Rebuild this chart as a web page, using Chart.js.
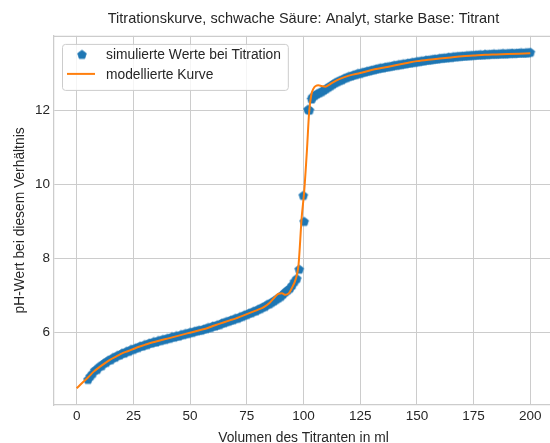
<!DOCTYPE html>
<html>
<head>
<meta charset="utf-8">
<script src="https://cdn.jsdelivr.net/npm/chart.js@4.4.0/dist/chart.umd.min.js"></script>
<style>
html, body { margin: 0; padding: 0; background: #fff; overflow: hidden; }
#wrap { width: 550px; height: 443px; overflow: hidden; position: relative; }
canvas { position: absolute; left: 0; top: 0; }
</style>
</head>
<body>
<div id="wrap"><canvas id="myChart" width="560" height="443"></canvas></div>
<script>
var titleText = 'Titrationskurve, schwache Säure: Analyt, starke Base: Titrant';
var xLabel = 'Volumen des Titranten in ml';
var yLabel = 'pH-Wert bei diesem Verhältnis';
var scatterLabel = 'simulierte Werte bei Titration';
var modelLabel = 'modellierte Kurve';

var xTicks = [0, 25, 50, 75, 100, 125, 150, 175, 200];
var yTicks = [6, 8, 10, 12];

// simulated measurements (ml, pH)
var scatterX = [
  5, 6, 7, 8, 9, 10, 11, 12, 13, 14,
  15, 16, 17, 18, 19, 20, 21, 22, 23, 24,
  25, 26, 27, 28, 29, 30, 31, 32, 33, 34,
  35, 36, 37, 38, 39, 40, 41, 42, 43, 44,
  45, 46, 47, 48, 49, 50, 51, 52, 53, 54,
  55, 56, 57, 58, 59, 60, 61, 62, 63, 64,
  65, 66, 67, 68, 69, 70, 71, 72, 73, 74,
  75, 76, 77, 78, 79, 80, 81, 82, 83, 84,
  85, 86, 87, 88, 89, 90, 91, 92, 93, 94, 95, 96, 97,
  98.1, 99.9, 100.3, 102.0, 102.6, 103.6,
  104, 105, 106, 107, 108, 109, 110, 111, 112, 113,
  114, 115, 116, 117, 118, 119, 120, 121, 122, 123,
  124, 125, 126, 127, 128, 129, 130, 131, 132, 133,
  134, 135, 136, 137, 138, 139, 140, 141, 142, 143,
  144, 145, 146, 147, 148, 149, 150, 151, 152, 153,
  154, 155, 156, 157, 158, 159, 160, 161, 162, 163,
  164, 165, 166, 167, 168, 169, 170, 171, 172, 173,
  174, 175, 176, 177, 178, 179, 180, 181, 182, 183,
  184, 185, 186, 187, 188, 189, 190, 191, 192, 193,
  194, 195, 196, 197, 198, 199, 200
];
var scatterY = [
  4.74, 4.83, 4.90, 4.99, 5.01, 5.09, 5.11, 5.18, 5.20, 5.26,
  5.27, 5.33, 5.34, 5.39, 5.40, 5.45, 5.45, 5.50, 5.50, 5.55,
  5.55, 5.59, 5.60, 5.64, 5.64, 5.68, 5.68, 5.72, 5.72, 5.76,
  5.75, 5.79, 5.79, 5.82, 5.82, 5.85, 5.85, 5.89, 5.88, 5.92,
  5.91, 5.95, 5.95, 5.98, 5.98, 6.01, 6.01, 6.04, 6.05, 6.07,
  6.07, 6.10, 6.11, 6.14, 6.14, 6.18, 6.18, 6.21, 6.22, 6.26,
  6.27, 6.30, 6.31, 6.34, 6.35, 6.39, 6.39, 6.43, 6.44, 6.48,
  6.49, 6.53, 6.54, 6.58, 6.59, 6.63, 6.65, 6.69, 6.71, 6.76,
  6.78, 6.82, 6.86, 6.90, 6.94, 6.98, 7.04, 7.10, 7.15, 7.20, 7.28, 7.38, 7.46,
  7.71, 9.70, 9.00, 12.02, 12.00, 12.30,
  12.36, 12.40, 12.44, 12.47, 12.50, 12.54, 12.58, 12.62, 12.66, 12.70,
  12.74, 12.77, 12.80, 12.82, 12.86, 12.88, 12.91, 12.92, 12.95, 12.96,
  12.99, 12.99, 13.02, 13.03, 13.05, 13.06, 13.08, 13.09, 13.11, 13.12,
  13.14, 13.14, 13.16, 13.17, 13.18, 13.19, 13.21, 13.21, 13.23, 13.23,
  13.25, 13.25, 13.27, 13.27, 13.29, 13.29, 13.31, 13.31, 13.33, 13.33,
  13.35, 13.35, 13.36, 13.37, 13.38, 13.38, 13.40, 13.40, 13.41, 13.41,
  13.43, 13.42, 13.44, 13.44, 13.45, 13.45, 13.46, 13.46, 13.47, 13.47,
  13.48, 13.48, 13.49, 13.49, 13.50, 13.49, 13.51, 13.50, 13.51, 13.51,
  13.52, 13.51, 13.52, 13.52, 13.53, 13.52, 13.53, 13.53, 13.54, 13.53,
  13.54, 13.54, 13.55, 13.54, 13.55, 13.55, 13.56
];

// fitted model curve (ml, pH)
var modelX = [
  0, 2.5, 5, 7.5, 10, 12.5, 15, 17.5, 20, 22.5,
  25, 27.5, 30, 32.5, 35, 37.5, 40, 42.5, 45, 47.5,
  50, 52.5, 55, 57.5, 60, 62.5, 65, 67.5, 70, 72.5,
  75, 77.5, 80, 82.5, 85, 87.5, 89, 90.5, 92, 93.5,
  95, 96.6, 97.8, 99.2, 100.3, 101.5, 102.5, 103.4, 104.4, 105.4,
  106.5, 108, 109.5, 111, 113, 116, 120, 125, 130, 135,
  140, 145, 150, 155, 160, 165, 170, 175, 180, 185,
  190, 195, 200
];
var modelY = [
  4.50, 4.65, 4.79, 4.95, 5.07, 5.18, 5.28, 5.36, 5.44, 5.50,
  5.56, 5.62, 5.67, 5.72, 5.76, 5.80, 5.84, 5.88, 5.92, 5.96,
  6.00, 6.04, 6.08, 6.12, 6.18, 6.23, 6.28, 6.33, 6.38, 6.44,
  6.50, 6.56, 6.62, 6.69, 6.80, 6.97, 7.05, 7.06, 7.02, 7.06,
  7.22, 7.45, 7.82, 9.10, 9.80, 10.90, 11.95, 12.40, 12.58, 12.65,
  12.67, 12.65, 12.63, 12.67, 12.75, 12.84, 12.93, 13.00, 13.08, 13.14,
  13.20, 13.26, 13.32, 13.36, 13.39, 13.42, 13.45, 13.47, 13.49, 13.50,
  13.51, 13.52, 13.53
];

var blue = '#1f77b4';
var orange = '#ff7f0e';
var textColor = '#262626';
var gridColor = '#cccccc';
var fontFamily = '"Liberation Sans", Arial, sans-serif';

// pentagon marker like matplotlib 'p'
function makePentagon(r) {
  var c = document.createElement('canvas');
  c.width = 14; c.height = 14;
  var g = c.getContext('2d');
  g.beginPath();
  for (var i = 0; i < 5; i++) {
    var a = -Math.PI / 2 + i * 2 * Math.PI / 5;
    var px = 7 + r * Math.cos(a), py = 7.4 + r * Math.sin(a);
    if (i == 0) g.moveTo(px, py); else g.lineTo(px, py);
  }
  g.closePath();
  g.fillStyle = blue;
  g.fill();
  g.strokeStyle = blue;
  g.lineWidth = 0.8;
  g.stroke();
  return c;
}
var pentagon = makePentagon(4.6);

var scatterPoints = scatterX.map(function(x, i) { return {x: x, y: scatterY[i]}; });
var modelPoints = modelX.map(function(x, i) { return {x: x, y: modelY[i]}; });

var framePlugin = {
  id: 'frame',
  afterDraw: function(chart) {
    var ctx = chart.ctx, a = chart.chartArea;
    ctx.save();
    // top spine
    ctx.strokeStyle = gridColor;
    ctx.lineWidth = 1.25;
    ctx.beginPath();
    ctx.moveTo(a.left, a.top + 0.5);
    ctx.lineTo(a.right, a.top + 0.5);
    ctx.stroke();

    // legend
    ctx.font = '13.8px ' + fontFamily;
    var tw = Math.max(ctx.measureText(scatterLabel).width, ctx.measureText(modelLabel).width);
    var bx = a.left + 8, by = a.top + 8, bw = 44 + tw + 7, bh = 46;
    ctx.beginPath();
    if (ctx.roundRect) ctx.roundRect(bx + 0.5, by + 0.5, bw, bh, 3);
    else ctx.rect(bx + 0.5, by + 0.5, bw, bh);
    ctx.fillStyle = 'rgba(255,255,255,0.8)';
    ctx.fill();
    ctx.lineWidth = 1;
    ctx.strokeStyle = gridColor;
    ctx.stroke();

    ctx.drawImage(pentagon, bx + 20 - 7, by + 10.5 - 7);
    ctx.strokeStyle = orange;
    ctx.lineWidth = 2;
    ctx.beginPath();
    ctx.moveTo(bx + 5, by + 30);
    ctx.lineTo(bx + 33, by + 30);
    ctx.stroke();

    ctx.fillStyle = textColor;
    ctx.textBaseline = 'middle';
    ctx.textAlign = 'left';
    ctx.fillText(scatterLabel, bx + 44, by + 11);
    ctx.fillText(modelLabel, bx + 44, by + 31);
    ctx.restore();
  }
};

var ctx = document.getElementById('myChart');
var myChart = new Chart(ctx, {
  type: 'scatter',
  data: {
    datasets: [{
      type: 'line',
      label: modelLabel,
      data: modelPoints,
      borderColor: orange,
      borderWidth: 2,
      pointRadius: 0,
      fill: false,
      cubicInterpolationMode: 'monotone',
      order: 0
    }, {
      type: 'scatter',
      label: scatterLabel,
      data: scatterPoints,
      pointStyle: pentagon,
      backgroundColor: blue,
      borderColor: blue,
      order: 1
    }]
  },
  options: {
    responsive: false,
    animation: false,
    devicePixelRatio: 1,
    layout: { padding: { left: 0, right: 7, top: 0, bottom: 0 } },
    plugins: {
      legend: { display: false },
      tooltip: { enabled: false },
      title: {
        display: true,
        text: titleText,
        color: textColor,
        fullSize: false,
        font: { family: fontFamily, size: 14.5, weight: 'normal' },
        padding: { top: 10.5, bottom: 8 }
      }
    },
    scales: {
      x: {
        type: 'linear',
        min: -10,
        max: 210,
        afterBuildTicks: function(scale) { scale.ticks = xTicks.map(function(v) { return {value: v}; }); },
        afterFit: function(scale) { scale.height = 38; },
        grid: { color: gridColor, lineWidth: 1, drawTicks: false },
        border: { color: gridColor, width: 1.25 },
        ticks: { color: textColor, padding: 3, font: { family: fontFamily, size: 13.5 }, maxRotation: 0 },
        title: {
          display: true, text: xLabel, color: textColor,
          font: { family: fontFamily, size: 13.8, lineHeight: 1 },
          padding: { top: 0, bottom: -2 }
        }
      },
      y: {
        type: 'linear',
        min: 4.05,
        max: 14.0,
        afterBuildTicks: function(scale) { scale.ticks = yTicks.map(function(v) { return {value: v}; }); },
        afterFit: function(scale) { scale.width = 54; },
        grid: { color: gridColor, lineWidth: 1, drawTicks: false },
        border: { color: gridColor, width: 1.25 },
        ticks: { color: textColor, padding: 4, font: { family: fontFamily, size: 13.5 } },
        title: {
          display: true, text: yLabel, color: textColor,
          font: { family: fontFamily, size: 13.8, lineHeight: 1.2 },
          padding: { top: 12, bottom: 0 }
        }
      }
    }
  },
  plugins: [framePlugin]
});
</script>
</body>
</html>
